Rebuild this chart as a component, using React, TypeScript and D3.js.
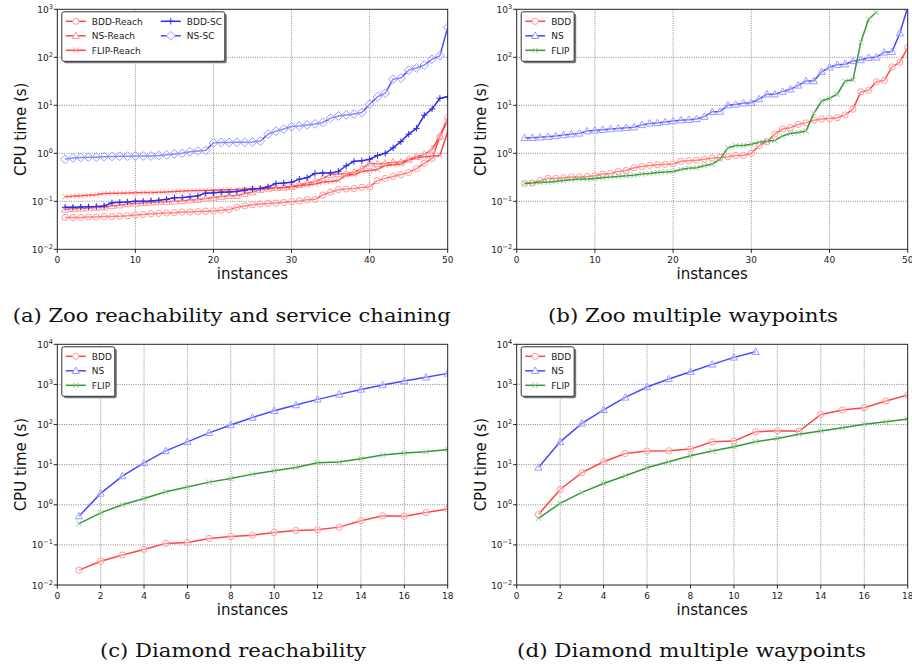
import * as d3 from "d3";
import { useEffect, useRef } from "react";

// instance numbers on the x axis
const zooInstances = d3.range(1, 51);
const diamondInstances = d3.range(1, 19);

// (a) Zoo reachability and service chaining
const zooBddReach = [
  0.046, 0.046, 0.046, 0.047, 0.047, 0.048, 0.048, 0.049, 0.05, 0.052,
  0.053, 0.055, 0.056, 0.057, 0.058, 0.06, 0.06, 0.061, 0.062, 0.063,
  0.065, 0.067, 0.075, 0.08, 0.085, 0.088, 0.09, 0.092, 0.095, 0.098,
  0.102, 0.108, 0.11, 0.135, 0.155, 0.175, 0.18, 0.185, 0.195, 0.2,
  0.27, 0.3, 0.33, 0.36, 0.4, 0.48, 0.62, 0.78, 2.2, 5.5,
];
const zooNsReach = [
  0.068, 0.07, 0.071, 0.072, 0.074, 0.075, 0.08, 0.083, 0.088, 0.09,
  0.092, 0.095, 0.097, 0.098, 0.1, 0.102, 0.106, 0.108, 0.115, 0.12,
  0.125, 0.13, 0.13, 0.145, 0.155, 0.175, 0.185, 0.19, 0.195, 0.2,
  0.22, 0.24, 0.26, 0.3, 0.36, 0.37, 0.38, 0.4, 0.48, 0.62,
  0.6, 0.62, 0.65, 0.65, 0.75, 0.85, 0.95, 1.2, 2.3, 4.8,
];
const zooFlipReach = [
  0.125, 0.128, 0.13, 0.133, 0.137, 0.145, 0.147, 0.148, 0.149, 0.15,
  0.152, 0.153, 0.155, 0.157, 0.16, 0.163, 0.165, 0.167, 0.168, 0.17,
  0.172, 0.174, 0.176, 0.18, 0.182, 0.185, 0.188, 0.19, 0.195, 0.2,
  0.21, 0.22, 0.23, 0.25, 0.26, 0.27, 0.35, 0.36, 0.42, 0.44,
  0.46, 0.56, 0.58, 0.6, 0.72, 0.82, 0.85, 0.87, 0.9, 2.8,
];
const zooBddSc = [
  0.075, 0.075, 0.076, 0.077, 0.078, 0.08, 0.093, 0.095, 0.097, 0.1,
  0.1, 0.102, 0.105, 0.11, 0.118, 0.12, 0.125, 0.13, 0.148, 0.15,
  0.155, 0.157, 0.16, 0.17, 0.18, 0.185, 0.2, 0.235, 0.24, 0.25,
  0.29, 0.31, 0.38, 0.39, 0.39, 0.42, 0.55, 0.68, 0.7, 0.75,
  0.9, 1.0, 1.3, 1.75, 2.5, 3.3, 6.2, 8.4, 14.0, 15.0,
];
const zooNsSc = [
  0.75, 0.8, 0.82, 0.83, 0.83, 0.85, 0.86, 0.87, 0.87, 0.88,
  0.88, 0.88, 0.9, 0.93, 0.97, 1.0, 1.08, 1.12, 1.15, 1.65,
  1.68, 1.68, 1.7, 1.7, 1.72, 1.8, 2.5, 2.9, 3.2, 3.6,
  3.7, 3.9, 4.1, 4.4, 5.4, 6.0, 6.3, 6.6, 7.1, 10.5,
  15, 17.8, 35, 37, 54, 60, 69, 91, 108, 420,
];

// (b) Zoo multiple waypoints
const zooWpBdd = [
  0.235, 0.24, 0.27, 0.3, 0.3, 0.31, 0.32, 0.32, 0.33, 0.34,
  0.37, 0.38, 0.42, 0.44, 0.5, 0.53, 0.56, 0.58, 0.59, 0.6,
  0.68, 0.7, 0.72, 0.75, 0.8, 0.82, 0.85, 0.9, 0.9, 1.0,
  1.45, 1.74, 2.5, 3.2, 3.4, 4.0, 4.3, 4.9, 5.2, 5.3,
  5.5, 6.3, 8.3, 19, 20.5, 31, 33, 63, 79, 160,
];
const zooWpNs = [
  2.1, 2.1, 2.15, 2.2, 2.3, 2.4, 2.5, 2.6, 2.9, 3.0,
  3.1, 3.2, 3.3, 3.4, 3.5, 3.9, 4.2, 4.3, 4.5, 4.7,
  4.9, 5.0, 5.2, 5.8, 7.3, 7.4, 10, 10.4, 11, 11.3,
  13.5, 17, 17, 19.3, 21.5, 26, 32, 32, 50, 62,
  70, 72, 84, 88, 98, 100, 127, 130, 320, 1100,
];
const zooWpFlip = [
  0.235, 0.24, 0.25, 0.25, 0.26, 0.27, 0.28, 0.29, 0.29, 0.3,
  0.31, 0.32, 0.33, 0.34, 0.35, 0.37, 0.38, 0.4, 0.41, 0.42,
  0.46, 0.49, 0.5, 0.55, 0.6, 0.75, 1.3, 1.45, 1.45, 1.55,
  1.7, 1.8, 1.85, 2.3, 2.6, 2.7, 2.9, 6.8, 12.3, 14,
  17, 32, 34, 205, 620, 870,
];

// (c) Diamond reachability
const diaReachBdd = [
  0.0235, 0.039, 0.056, 0.077, 0.109, 0.115, 0.145, 0.162, 0.175,
  0.204, 0.229, 0.238, 0.277, 0.4, 0.53, 0.52, 0.64, 0.78,
];
const diaReachNs = [
  0.52, 1.92, 5.2, 11.1, 22, 37, 62, 97, 150, 221, 306, 424, 565, 751, 964,
  1210, 1500, 1885,
];
const diaReachFlip = [
  0.34, 0.63, 1.0, 1.44, 2.1, 2.76, 3.67, 4.5, 5.8, 7.0, 8.5, 11.1, 11.6, 14,
  17.3, 19.4, 21, 24,
];

// (d) Diamond multiple waypoints
const diaWpBdd = [
  0.57, 2.4, 6.3, 11.8, 19, 21.8, 22.2, 24.4, 37, 38.7, 66, 70, 68, 179, 230,
  263, 385, 543,
];
const diaWpNs = [8.5, 37, 107, 233, 475, 860, 1360, 2070, 3160, 4720, 6530];
const diaWpFlip = [
  0.46, 1.08, 2.03, 3.4, 5.3, 8.4, 11.8, 16.7, 21.8, 28, 37, 45, 57, 69, 83,
  102, 117, 137,
];

const zooTicks = [0, 10, 20, 30, 40, 50];
const diamondTicks = [0, 2, 4, 6, 8, 10, 12, 14, 16, 18];

const RED = "#ff4646";
const RED_M = "#ff9a9a";
const BLUE = "#4848ff";
const BLUE_M = "#9a9aff";
const DBLUE = "#2e2ee8";
const GREEN = "#3a963a";
const GREEN_M = "#86cc86";

type Marker = "circle" | "triangle" | "x" | "plus" | "diamond";

interface Series {
  name: string;
  xs: number[];
  values: number[];
  color: string;
  markerColor: string;
  marker: Marker;
}

interface Panel {
  x0: number;
  x1: number;
  y0: number;
  y1: number;
  xMax: number;
  xTicks: number[];
  yMaxExp: number;
  series: Series[];
  legendCols: number;
  legendW: number;
  caption: string;
  captionX: number;
  captionY: number;
  captionW: number;
}

const mk = (
  name: string,
  xs: number[],
  values: number[],
  color: string,
  markerColor: string,
  marker: Marker
): Series => ({ name, xs: xs.slice(0, values.length), values, color, markerColor, marker });

const panels: Panel[] = [
  {
    x0: 57.3, x1: 447.7, y0: 9.3, y1: 249.3, xMax: 50, xTicks: zooTicks, yMaxExp: 3,
    series: [
      mk("BDD-Reach", zooInstances, zooBddReach, RED, RED_M, "circle"),
      mk("NS-Reach", zooInstances, zooNsReach, RED, RED_M, "triangle"),
      mk("FLIP-Reach", zooInstances, zooFlipReach, RED, RED_M, "x"),
      mk("BDD-SC", zooInstances, zooBddSc, DBLUE, DBLUE, "plus"),
      mk("NS-SC", zooInstances, zooNsSc, BLUE, BLUE_M, "diamond"),
    ],
    legendCols: 2, legendW: 163,
    caption: "(a) Zoo reachability and service chaining",
    captionX: 12.7, captionY: 322, captionW: 438,
  },
  {
    x0: 516.7, x1: 907.7, y0: 9.3, y1: 249.3, xMax: 50, xTicks: zooTicks, yMaxExp: 3,
    series: [
      mk("BDD", zooInstances, zooWpBdd, RED, RED_M, "circle"),
      mk("NS", zooInstances, zooWpNs, BLUE, BLUE_M, "triangle"),
      mk("FLIP", zooInstances, zooWpFlip, GREEN, GREEN_M, "x"),
    ],
    legendCols: 1, legendW: 53,
    caption: "(b) Zoo multiple waypoints",
    captionX: 548, captionY: 322, captionW: 290,
  },
  {
    x0: 57.3, x1: 447.7, y0: 344.3, y1: 585, xMax: 18, xTicks: diamondTicks, yMaxExp: 4,
    series: [
      mk("BDD", diamondInstances, diaReachBdd, RED, RED_M, "circle"),
      mk("NS", diamondInstances, diaReachNs, BLUE, BLUE_M, "triangle"),
      mk("FLIP", diamondInstances, diaReachFlip, GREEN, GREEN_M, "x"),
    ],
    legendCols: 1, legendW: 53,
    caption: "(c) Diamond reachability",
    captionX: 100, captionY: 657, captionW: 266,
  },
  {
    x0: 516.7, x1: 907.7, y0: 344.3, y1: 585, xMax: 18, xTicks: diamondTicks, yMaxExp: 4,
    series: [
      mk("BDD", diamondInstances, diaWpBdd, RED, RED_M, "circle"),
      mk("NS", diamondInstances, diaWpNs, BLUE, BLUE_M, "triangle"),
      mk("FLIP", diamondInstances, diaWpFlip, GREEN, GREEN_M, "x"),
    ],
    legendCols: 1, legendW: 53,
    caption: "(d) Diamond multiple waypoints",
    captionX: 517, captionY: 657, captionW: 349,
  },
];

const markerPath = (m: Marker, x: number, y: number) => {
  switch (m) {
    case "circle": {
      const r = 3.1;
      return `M${x - r},${y}a${r},${r} 0 1,0 ${2 * r},0a${r},${r} 0 1,0 ${-2 * r},0Z`;
    }
    case "triangle":
      return `M${x},${y - 3.8}L${x + 3.6},${y + 2.7}L${x - 3.6},${y + 2.7}Z`;
    case "diamond":
      return `M${x},${y - 4.4}L${x + 4.4},${y}L${x},${y + 4.4}L${x - 4.4},${y}Z`;
    case "x":
      return `M${x - 2.7},${y - 2.7}L${x + 2.7},${y + 2.7}M${x - 2.7},${y + 2.7}L${x + 2.7},${y - 2.7}`;
    case "plus":
      return `M${x - 3.2},${y}L${x + 3.2},${y}M${x},${y - 3.2}L${x},${y + 3.2}`;
  }
};

const SANS = "'DejaVu Sans', sans-serif";

export default function App() {
  const ref = useRef<SVGSVGElement>(null);

  useEffect(() => {
    const root = d3.select(ref.current);
    root.selectAll("*").remove();
    root.append("rect").attr("width", 912).attr("height", 671).attr("fill", "#fff");

    panels.forEach((p, pi) => {
      const g = root.append("g");
      const x = d3.scaleLinear().domain([0, p.xMax]).range([p.x0, p.x1]);
      const y = d3
        .scaleLog()
        .domain([1e-2, Math.pow(10, p.yMaxExp)])
        .range([p.y1, p.y0]);
      const yExps = d3.range(-2, p.yMaxExp + 1);

      // grid
      g.selectAll(".vg")
        .data(p.xTicks.slice(1, -1))
        .join("line")
        .attr("x1", (d) => x(d))
        .attr("x2", (d) => x(d))
        .attr("y1", p.y0)
        .attr("y2", p.y1)
        .attr("stroke", "#8a8a8a")
        .attr("stroke-width", 1)
        .attr("stroke-dasharray", "1,1.3");
      g.selectAll(".hg")
        .data(yExps.slice(1, -1))
        .join("line")
        .attr("x1", p.x0)
        .attr("x2", p.x1)
        .attr("y1", (e) => y(Math.pow(10, e)))
        .attr("y2", (e) => y(Math.pow(10, e)))
        .attr("stroke", "#8a8a8a")
        .attr("stroke-width", 1)
        .attr("stroke-dasharray", "1,1.3");

      // clip to the axes box
      const clipId = `clip${pi}`;
      root
        .append("clipPath")
        .attr("id", clipId)
        .append("rect")
        .attr("x", p.x0)
        .attr("y", p.y0)
        .attr("width", p.x1 - p.x0)
        .attr("height", p.y1 - p.y0);

      const plot = g.append("g").attr("clip-path", `url(#${clipId})`);

      p.series.forEach((s) => {
        const pts = s.values.map((v, i) => [x(s.xs[i]), y(v)] as [number, number]);
        plot
          .append("path")
          .attr("fill", "none")
          .attr("stroke", s.color)
          .attr("stroke-width", 1.5)
          .attr("d", d3.line()(pts));
        plot
          .append("path")
          .attr("fill", s.marker === "x" || s.marker === "plus" ? "none" : "rgba(255,255,255,0.35)")
          .attr("stroke", s.markerColor)
          .attr("stroke-width", 1)
          .attr("d", pts.map(([px, py]) => markerPath(s.marker, px, py)).join(""));
      });

      // frame
      g.append("rect")
        .attr("x", p.x0)
        .attr("y", p.y0)
        .attr("width", p.x1 - p.x0)
        .attr("height", p.y1 - p.y0)
        .attr("fill", "none")
        .attr("stroke", "#222")
        .attr("stroke-width", 1);

      // x ticks
      p.xTicks.forEach((t) => {
        g.append("line")
          .attr("x1", x(t))
          .attr("x2", x(t))
          .attr("y1", p.y1)
          .attr("y2", p.y1 + 3.5)
          .attr("stroke", "#222");
        g.append("text")
          .attr("x", x(t))
          .attr("y", p.y1 + 13.5)
          .attr("text-anchor", "middle")
          .attr("font-family", SANS)
          .attr("font-size", 9)
          .attr("fill", "#222")
          .text(t);
      });

      // y ticks
      yExps.forEach((e) => {
        const yy = y(Math.pow(10, e));
        g.append("line")
          .attr("x1", p.x0 - 3.5)
          .attr("x2", p.x0)
          .attr("y1", yy)
          .attr("y2", yy)
          .attr("stroke", "#222");
        const t = g
          .append("text")
          .attr("x", p.x0 - 4.5)
          .attr("y", yy + 3.5)
          .attr("text-anchor", "end")
          .attr("font-family", SANS)
          .attr("font-size", 9)
          .attr("fill", "#222");
        t.append("tspan").text("10");
        t.append("tspan")
          .attr("dy", -4)
          .attr("font-size", 6.5)
          .text(e < 0 ? `\u2212${-e}` : `${e}`);
      });

      // axis labels
      g.append("text")
        .attr("x", (p.x0 + p.x1) / 2)
        .attr("y", p.y1 + 29.5)
        .attr("text-anchor", "middle")
        .attr("font-family", SANS)
        .attr("font-size", 15)
        .attr("fill", "#111")
        .text("instances");
      g.append("text")
        .attr("transform", `translate(${p.x0 - 31},${(p.y0 + p.y1) / 2}) rotate(-90)`)
        .attr("text-anchor", "middle")
        .attr("font-family", SANS)
        .attr("font-size", 15)
        .attr("fill", "#111")
        .text("CPU time (s)");

      // legend
      const rows = Math.ceil(p.series.length / p.legendCols);
      const lx = p.x0 + 4.5;
      const ly = p.y0 + 2.5;
      const lh = rows * 14.5 + 6;
      g.append("rect")
        .attr("x", lx + 2)
        .attr("y", ly + 2)
        .attr("width", p.legendW)
        .attr("height", lh)
        .attr("rx", 2)
        .attr("fill", "#777");
      g.append("rect")
        .attr("x", lx)
        .attr("y", ly)
        .attr("width", p.legendW)
        .attr("height", lh)
        .attr("rx", 2)
        .attr("fill", "#fff")
        .attr("stroke", "#333")
        .attr("stroke-width", 1);
      p.series.forEach((s, i) => {
        const col = Math.floor(i / rows);
        const row = i % rows;
        const sx = lx + 4 + col * 95;
        const sy = ly + 9.5 + row * 14.5;
        g.append("line")
          .attr("x1", sx)
          .attr("x2", sx + 20)
          .attr("y1", sy)
          .attr("y2", sy)
          .attr("stroke", s.color)
          .attr("stroke-width", 1.5);
        g.append("path")
          .attr("fill", s.marker === "x" || s.marker === "plus" ? "none" : "#fff")
          .attr("stroke", s.markerColor)
          .attr("d", markerPath(s.marker, sx + 10, sy));
        g.append("text")
          .attr("x", sx + 26)
          .attr("y", sy + 3.3)
          .attr("font-family", SANS)
          .attr("font-size", 9)
          .attr("fill", "#222")
          .text(s.name);
      });

      // caption
      root
        .append("text")
        .attr("x", p.captionX)
        .attr("y", p.captionY)
        .attr("font-family", "'DejaVu Serif', serif")
        .attr("font-size", 18)
        .attr("textLength", p.captionW)
        .attr("lengthAdjust", "spacingAndGlyphs")
        .attr("fill", "#111")
        .text(p.caption);
    });
  }, []);

  return (
    <svg
      ref={ref}
      width={912}
      height={671}
      style={{ position: "absolute", left: 0, top: 0 }}
    />
  );
}
